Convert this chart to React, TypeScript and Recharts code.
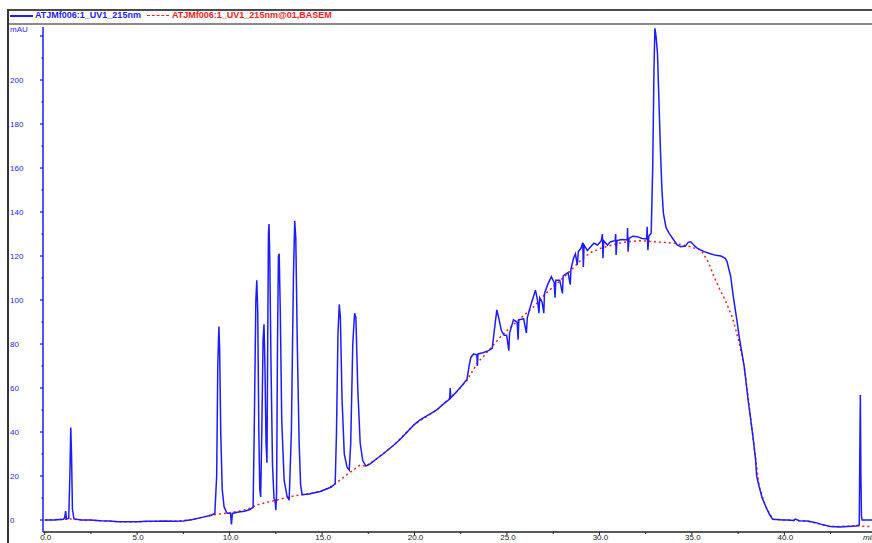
import React from 'react';
import { LineChart, Line, XAxis, YAxis } from 'recharts';

// chromatogram trace (min, mAU)
const signalTime = [
  0.0, 0.5, 1.0, 1.08, 1.13, 1.18, 1.3, 1.36, 1.41, 1.45, 1.5, 1.58, 2.0, 2.5, 3.0, 3.5, 4.0, 4.5, 5.0,
  5.5, 6.0, 6.5, 7.0, 7.5, 8.0, 8.5, 9.0, 9.2, 9.3, 9.36, 9.42, 9.46, 9.52, 9.6, 9.7, 9.85, 10.05, 10.1,
  10.15, 10.4, 10.8, 11.1, 11.27, 11.33, 11.42, 11.47, 11.52, 11.58, 11.63, 11.68, 11.74, 11.81, 11.86,
  11.91, 11.97, 12.02, 12.06, 12.1, 12.13, 12.17, 12.24, 12.32, 12.4, 12.46, 12.5, 12.54, 12.59, 12.64,
  12.68, 12.74, 12.82, 12.95, 13.1, 13.22, 13.34, 13.45, 13.52, 13.58, 13.66, 13.76, 13.84, 13.92, 14.3,
  14.6, 14.9, 15.2, 15.5, 15.71, 15.78, 15.86, 15.93, 15.99, 16.08, 16.2, 16.35, 16.47, 16.55, 16.66,
  16.76, 16.83, 16.93, 17.06, 17.2, 17.37, 17.6, 17.9, 18.3, 18.87, 19.2, 19.6, 20.0, 20.3, 20.8, 21.2,
  21.6, 21.9, 21.93, 21.96, 22.3, 22.6, 22.84, 22.95, 23.05, 23.2, 23.37, 23.4, 23.43, 23.7, 24.0, 24.2,
  24.3, 24.45, 24.55, 24.7, 24.85, 24.98, 25.1, 25.14, 25.35, 25.55, 25.6, 25.64, 25.9, 26.05, 26.1,
  26.3, 26.54, 26.65, 26.73, 26.77, 26.9, 26.99, 27.03, 27.2, 27.4, 27.55, 27.6, 27.64, 27.85, 28.0,
  28.04, 28.3, 28.42, 28.46, 28.6, 28.7, 28.8, 28.86, 29.0, 29.1, 29.13, 29.17, 29.35, 29.5, 29.7, 29.9,
  30.1, 30.16, 30.19, 30.23, 30.43, 30.6, 30.85, 30.88, 30.9, 30.95, 31.2, 31.5, 31.52, 31.55, 31.6,
  31.8, 32.05, 32.3, 32.55, 32.58, 32.62, 32.67, 32.8, 32.88, 32.95, 33.0, 33.06, 33.14, 33.22, 33.3,
  33.38, 33.46, 33.6, 33.77, 34.0, 34.2, 34.4, 34.65, 34.8, 34.94, 35.1, 35.3, 35.66, 36.0, 36.3, 36.57,
  36.8, 36.9, 37.0, 37.1, 37.25, 37.43, 37.6, 37.83, 38.05, 38.28, 38.45, 38.5, 38.64, 38.8, 39.0, 39.2,
  39.37, 39.6, 39.9, 40.18, 40.5, 40.6, 40.8, 41.26, 41.7, 42.1, 42.5, 43.0, 43.4, 43.88, 44.05, 44.08,
  44.11, 44.14, 44.17, 44.2, 44.74,
];
const signalMAU = [
  0, 0, 0.3, 1, 4, 0.5, 0.8, 20, 42, 30, 5, 0.5, 0, 0, -0.3, -0.5, -0.8, -0.8, -0.8,
  -0.6, -0.6, -0.5, -0.6, -0.4, 0.2, 1.2, 2.2, 3, 20, 70, 88, 78, 40, 14, 6, 3.2, 3, -2,
  3, 3.5, 4, 4.8, 5.8, 40, 100, 109, 95, 40, 14, 10.5, 40, 82, 89,
  70, 35, 26, 80, 130, 134.5, 120, 70, 25, 10, 8.5, 4.5, 12, 80, 120,
  121, 95, 45, 18, 11, 9, 40, 110, 136, 128, 80, 35, 16, 11.5, 11.8,
  12.4, 13, 14, 15, 16.5, 40, 85, 98, 92, 55, 30, 24, 22.7, 35, 80,
  94, 92, 60, 35, 27, 24.5, 25.5, 27.5, 30, 34, 36.5, 40, 43.5, 45.5, 48, 50,
  53, 55, 60, 55.5, 58.5, 61.5, 64, 70, 74, 75.5, 75, 70, 75.5, 76, 77, 78,
  85, 95.5, 92, 86, 84, 84, 77, 85, 91, 90, 82, 91, 91.5, 85, 92,
  98, 104.5, 100, 94, 101, 99, 94, 103, 107, 110.6, 108, 101, 109, 109, 103,
  111, 112.5, 107, 114, 119, 121, 116, 122, 123.5, 126, 115, 125, 122.5, 124, 125.8, 125,
  127, 130, 119, 127, 125, 126.5, 127, 130, 120.5, 127, 127.5, 127.3, 132.7, 122, 128,
  129, 128.8, 128, 127.8, 133.3, 122.7, 129, 130.5, 160, 205, 223.5, 220, 212, 190, 168,
  150, 139.4, 133, 130.3, 127.5, 125, 124.2, 124.5, 126.2, 126.5, 125, 123.5, 122, 121, 120.3, 120,
  119, 117.5, 114, 110.6, 101, 91, 81, 69.7, 54, 39.4, 27, 20, 15.1, 10, 6, 2.5,
  0.3, 0.2, 0, 0, -0.2, 0.4, -0.3, -0.5, -1.2, -2.2, -3, -3.2, -3, -2.7, -2.2, 30,
  56.8, 20, 2, 0, 0,
];

// baseline (red dotted)
const baseTime = [
  0.0, 1.0, 1.5, 2.0, 3.0, 4.0, 5.0, 6.0, 7.0, 8.0, 8.5, 9.0, 9.4, 10.0, 10.5, 11.0, 11.47, 12.0,
  12.5, 13.27, 13.9, 14.5, 14.9, 15.3, 15.8, 16.4, 17.06, 17.37, 17.9, 18.87, 20.0, 21.2, 22.3, 22.84,
  23.4, 24.0, 24.65, 25.5, 26.45, 27.1, 27.72, 28.4, 28.98, 29.5, 30.07, 30.8, 31.5, 32.2, 32.95, 33.5,
  34.04, 34.8, 35.5, 35.9, 36.2, 36.5, 36.8, 37.2, 37.56, 37.83, 38.28, 38.64, 39.0, 39.37, 40.18,
  41.26, 42.5, 43.88, 44.2, 44.74,
];
const baseMAU = [
  0, 0.3, 0.5, 0, -0.3, -0.8, -0.8, -0.6, -0.6, 0.2, 1.2, 2.2, 2.7, 3.3, 4, 5, 6.8, 8,
  9, 10.6, 11.5, 12.3, 13, 14.3, 17, 21, 25, 24.5, 27.5, 34, 43.5, 50, 58.5, 63.5,
  71.4, 77, 83.3, 90, 97, 103, 107.6, 113, 118, 121.5, 123.5, 125.3, 126.5, 127, 126.5, 126.2,
  125.8, 124.5, 122.7, 117, 110.6, 105, 100, 91.8, 80.5, 69.7, 39.4, 15.1, 6, 0.3, 0,
  -0.5, -3, -2.7, -2.8, -3,
];

const xTicks = [0, 2.5, 5, 7.5, 10, 12.5, 15, 17.5, 20, 22.5, 25, 27.5, 30, 32.5, 35, 37.5, 40, 42.5];
const yTicks = [0, 10, 20, 30, 40, 50, 60, 70, 80, 90, 100, 110, 120, 130, 140, 150, 160, 170, 180, 190, 200, 210, 220];

const traceName = 'ATJMf006:1_UV1_215nm';
const baseName = 'ATJMf006:1_UV1_215nm@01,BASEM';

const signal = signalTime.map((t, i) => ({ t, v: signalMAU[i] }));
const baseline = baseTime.map((t, i) => ({ t, v: baseMAU[i] }));

const BLUE = '#1c1cff';
const RED = '#ff1a1a';
const FONT = 'Arial, "Liberation Sans", sans-serif';
const AXIS_Y = 532;

const YTick = (props: any) => {
  const { y, payload } = props;
  const major = payload.value % 20 === 0;
  return (
    <g>
      <line x1={major ? 40 : 41.5} x2={43} y1={y} y2={y} stroke={BLUE} strokeWidth={1.3} />
      {major && payload.value <= 200 && (
        <text x={10} y={y} dy={3} fontSize={8} fill={BLUE} fontFamily={FONT}>
          {payload.value}
        </text>
      )}
    </g>
  );
};

const XTick = (props: any) => {
  const { x, payload } = props;
  const major = payload.value % 5 === 0;
  return (
    <g>
      <line x1={x} x2={x} y1={AXIS_Y} y2={AXIS_Y + (major ? 3 : 2)} stroke="#222" strokeWidth={1} />
      {major && (
        <text x={x + 1} y={AXIS_Y + 8} textAnchor="middle" fontSize={8} fill="#222" fontFamily={FONT}>
          {payload.value.toFixed(1)}
        </text>
      )}
    </g>
  );
};

export default function App() {
  return (
    <div
      style={{
        position: 'fixed',
        left: 0,
        top: 0,
        width: 872,
        height: 543,
        overflow: 'hidden',
        background: '#fff',
        fontFamily: FONT,
      }}
    >
      {/* frame */}
      <div style={{ position: 'absolute', left: 8, top: 9, width: 864, height: 2, background: '#4a4a4a' }} />
      <div style={{ position: 'absolute', left: 8, top: 23, width: 864, height: 2, background: '#8a8a8a' }} />
      <div style={{ position: 'absolute', left: 7, top: 9, width: 2, height: 534, background: '#333' }} />

      {/* legend */}
      <div style={{ position: 'absolute', left: 10, top: 15, width: 23, height: 1.5, background: BLUE }} />
      <div
        style={{ position: 'absolute', left: 35, top: 10, fontSize: 9, fontWeight: 'bold', color: BLUE, whiteSpace: 'nowrap' }}
      >
        {traceName}
      </div>
      <div style={{ position: 'absolute', left: 147, top: 15, width: 22, height: 0, borderTop: `1.5px dashed ${RED}` }} />
      <div
        style={{ position: 'absolute', left: 172, top: 10, fontSize: 9, fontWeight: 'bold', color: RED, whiteSpace: 'nowrap' }}
      >
        {baseName}
      </div>

      <div style={{ position: 'absolute', left: 10, top: 25, fontSize: 8, color: BLUE }}>mAU</div>
      <div style={{ position: 'absolute', left: 863, top: 533, fontSize: 8, color: '#222', fontStyle: 'italic' }}>min</div>

      <div style={{ position: 'absolute', left: 0, top: 0 }}>
        <LineChart width={872} height={543} margin={{ top: 27, right: 0, bottom: 0, left: 0 }}>
          <XAxis
            type="number"
            dataKey="t"
            domain={[-0.092, 44.74]}
            allowDataOverflow
            ticks={xTicks}
            interval={0}
            height={11}
            axisLine={{ stroke: '#222', strokeWidth: 1.5 }}
            tickLine={false}
            tick={<XTick />}
          />
          <YAxis
            type="number"
            dataKey="v"
            domain={[-5.45, 224.1]}
            allowDataOverflow
            ticks={yTicks}
            interval={0}
            width={43}
            axisLine={{ stroke: BLUE, strokeWidth: 1.5 }}
            tickLine={false}
            tick={<YTick />}
          />
          <Line
            data={baseline}
            dataKey="v"
            type="linear"
            stroke={RED}
            strokeWidth={1.5}
            strokeDasharray="2 3"
            dot={false}
            isAnimationActive={false}
            name={baseName}
          />
          <Line
            data={signal}
            dataKey="v"
            type="linear"
            stroke={BLUE}
            strokeWidth={1.5}
            dot={false}
            isAnimationActive={false}
            name={traceName}
          />
        </LineChart>
      </div>
    </div>
  );
}
